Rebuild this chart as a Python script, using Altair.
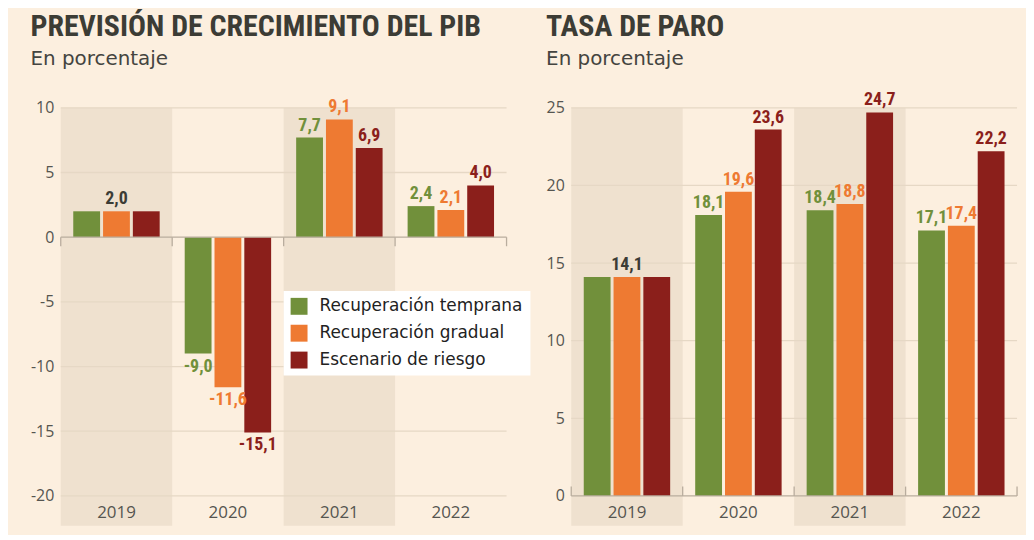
import altair as alt
import pandas as pd

years = ["2019", "2020", "2021", "2022"]
series = ["Recuperación temprana", "Recuperación gradual", "Escenario de riesgo"]
colors = ["#71903b", "#ee7a32", "#8b1f1b"]

pib_temprana = [2.0, -9.0, 7.7, 2.4]
pib_gradual = [2.0, -11.6, 9.1, 2.1]
pib_riesgo = [2.0, -15.1, 6.9, 4.0]

paro_temprana = [14.1, 18.1, 18.4, 17.1]
paro_gradual = [14.1, 19.6, 18.8, 17.4]
paro_riesgo = [14.1, 23.6, 24.7, 22.2]

shaded_years = ["2019", "2021"]
pib_ticks = [-20, -15, -10, -5, 0, 5, 10]
paro_ticks = [0, 5, 10, 15, 20, 25]

BG = "#fcefdf"
BAND = "#efe1cf"
GRID = "#e6d8c5"
ZERO = "#b9ad9e"
TXT = "#555550"
DARK = "#3c3c35"
TITLE_FONT = "Roboto Condensed, Roboto, sans-serif"
LABEL_FONT = "Roboto Condensed, Roboto, sans-serif"
AXIS_FONT = "Open Sans, sans-serif"
SUB_FONT = "DejaVu Sans, sans-serif"

W = 448
H = 390


def build(vals_by_series):
    rows = []
    for i, y in enumerate(years):
        vals = [v[i] for v in vals_by_series]
        same = all(v == vals[0] for v in vals)
        for j, s in enumerate(series):
            v = vals[j]
            rows.append(dict(
                year=y, series=s, value=v,
                label=f"{v:.1f}".replace(".", ","),
                show=(j == 1) if same else True,
                lcolor=DARK if same else colors[j],
            ))
    return pd.DataFrame(rows)


def panel(df, ticks, domain, title, tick_end, grid_vals, title_offset):
    xscale = alt.Scale(domain=years, paddingInner=0, paddingOuter=0)
    yscale = alt.Scale(domain=domain, nice=False)
    x_axis = alt.Axis(title=None, domain=False, ticks=False, labelPadding=9,
                      labelFontSize=17, labelColor=TXT, labelFont=AXIS_FONT, labelAngle=0)
    y_axis = alt.Axis(title=None, domain=False, ticks=False, grid=False, values=ticks,
                      labelPadding=7, labelFontSize=16, labelFont=AXIS_FONT, labelColor=TXT,
                      labelExpr="datum.value < 0 ? '-' + abs(datum.value) : '' + datum.value")

    bands = alt.Chart(pd.DataFrame({"year": shaded_years})).mark_rect(color=BAND).encode(
        x=alt.X("year:N", scale=xscale, axis=x_axis),
        y=alt.value(0), y2=alt.value(H + 30),
    )
    grid = alt.Chart(pd.DataFrame({"v": grid_vals})).mark_rule(color=GRID, strokeWidth=1.3).encode(
        y=alt.Y("v:Q", scale=yscale, axis=y_axis),
    )
    zero = alt.Chart(pd.DataFrame({"v": [0]})).mark_rule(color=ZERO, strokeWidth=1.3).encode(
        y=alt.Y("v:Q", scale=yscale),
    )
    bticks = alt.Chart(pd.DataFrame({"year": years})).mark_rule(color=ZERO, strokeWidth=1.3).encode(
        x=alt.X("year:N", scale=xscale, bandPosition=0),
        y=alt.datum(0), y2=alt.datum(tick_end),
    )
    eticks = alt.Chart(pd.DataFrame({"year": years[-1:]})).mark_rule(color=ZERO, strokeWidth=1.3).encode(
        x=alt.X("year:N", scale=xscale, bandPosition=1),
        y=alt.datum(0), y2=alt.datum(tick_end),
    )
    base = alt.Chart(df)
    xo = alt.XOffset("series:N", sort=series,
                     scale=alt.Scale(paddingInner=0.1, paddingOuter=0.42))
    bars = base.mark_bar().encode(
        x=alt.X("year:N", scale=xscale),
        xOffset=xo,
        y=alt.Y("value:Q", scale=yscale),
        y2=alt.datum(0),
        color=alt.Color("series:N", scale=alt.Scale(domain=series, range=colors),
                        legend=alt.Legend(title=None, orient="none", legendX=224, legendY=184,
                                          fillColor="white", padding=7,
                                          symbolType="square", symbolSize=289,
                                          symbolStrokeWidth=0, symbolOpacity=1,
                                          labelFontSize=17, labelFont=SUB_FONT, labelColor="#222",
                                          rowPadding=9, labelLimit=400, labelOffset=12)),
    )
    tenc = dict(
        x=alt.X("year:N", scale=xscale),
        xOffset=xo,
        y=alt.Y("value:Q", scale=yscale),
        text="label:N",
        color=alt.Color("lcolor:N", scale=None),
    )
    pos = base.transform_filter("datum.show && datum.value >= 0").mark_text(
        baseline="bottom", dy=-3, font=LABEL_FONT, fontWeight="bold", fontSize=18).encode(**tenc)
    neg = base.transform_filter("datum.show && datum.value < 0").mark_text(
        baseline="top", dy=4, font=LABEL_FONT, fontWeight="bold", fontSize=18).encode(**tenc)

    return alt.layer(bands, grid, bars, zero, bticks, eticks, pos, neg).properties(
        width=W, height=H,
        title=alt.TitleParams(text=title, subtitle="En porcentaje", anchor="start",
                              font=TITLE_FONT, fontSize=30, fontWeight="bold", color=DARK,
                              subtitleFont=SUB_FONT, subtitleFontSize=20, subtitleColor="#444440",
                              subtitlePadding=7, offset=title_offset, frame="bounds"),
    )


left = panel(build([pib_temprana, pib_gradual, pib_riesgo]), pib_ticks, [-20, 10],
             "PREVISIÓN DE CRECIMIENTO DEL PIB", -0.7, [-20, -15, -10, -5, 5, 10], 30)
right = panel(build([paro_temprana, paro_gradual, paro_riesgo]), paro_ticks, [0, 25],
              "TASA DE PARO", 0.6, [5, 10, 15, 20, 25], 23)

chart = alt.hconcat(left, right, spacing=38).resolve_scale(
    x="independent", y="independent", color="shared"
).properties(
    background=BG,
    padding={"left": 22, "top": 2, "right": 8, "bottom": 8},
).configure_view(stroke=None)

chart.save("out.html", embed_options={"renderer": "svg", "actions": False})
